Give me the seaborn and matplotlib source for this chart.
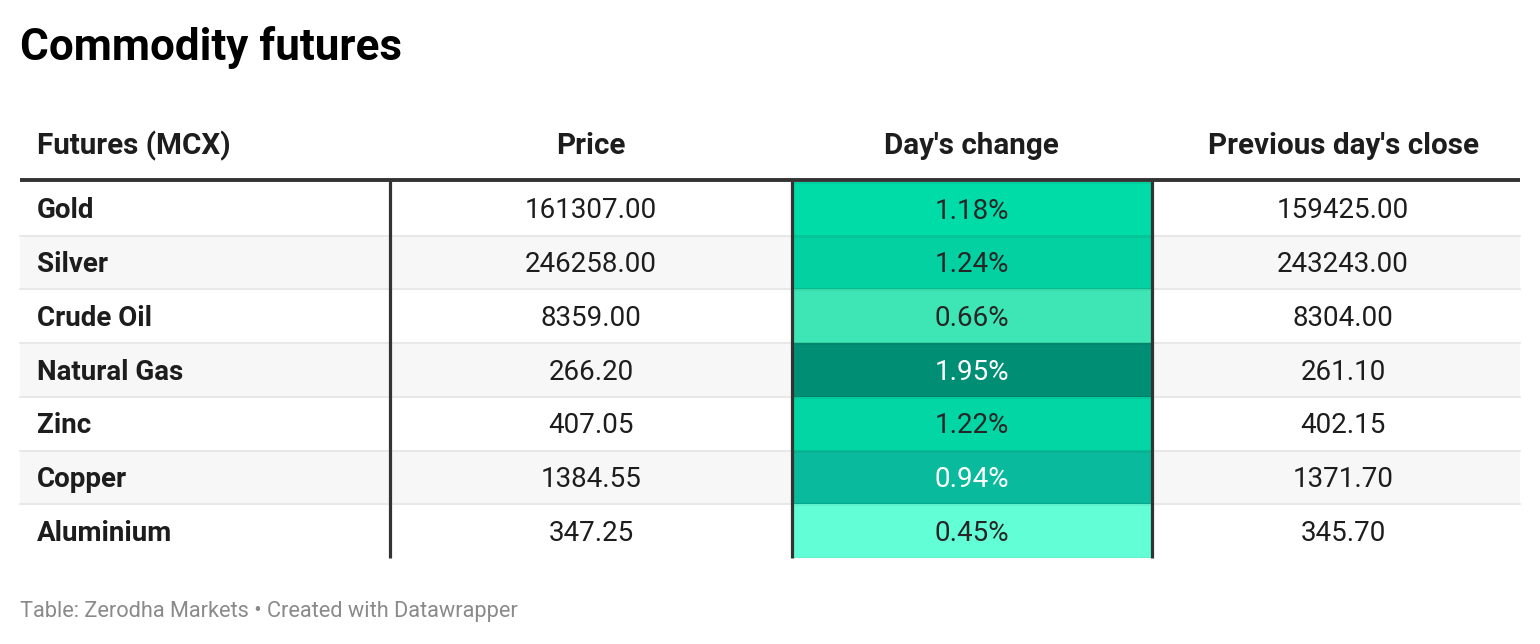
import numpy as np
import pandas as pd
import matplotlib
matplotlib.use("Agg")
import matplotlib.pyplot as plt
import seaborn as sns
from matplotlib.colors import ListedColormap, BoundaryNorm

# ---- data ----
title = "Commodity futures"
footer = "Table: Zerodha Markets \u2022 Created with Datawrapper"
headers = ["Futures (MCX)", "Price", "Day's change", "Previous day's close"]
commodities = ["Gold", "Silver", "Crude Oil", "Natural Gas", "Zinc", "Copper", "Aluminium"]
price = [161307.00, 246258.00, 8359.00, 266.20, 407.05, 1384.55, 347.25]
day_change = [1.18, 1.24, 0.66, 1.95, 1.22, 0.94, 0.45]
prev_close = [159425.00, 243243.00, 8304.00, 261.10, 402.15, 1371.70, 345.70]

# colours for the day's change cells, ordered by ascending value
change_colors = ["#62FFD6", "#3DE6B4", "#0ABA9C", "#00DCA8", "#02D6A4", "#04D1A1", "#008E74"]

sns.set_theme(style="white")
plt.rcParams["font.family"] = ["Roboto", "DejaVu Sans"]

W, H = 1540, 644
fig = plt.figure(figsize=(W / 100, H / 100), dpi=100)
fig.patch.set_facecolor("white")

def fr(x0, y0, x1, y1):
    return [x0 / W, 1 - y1 / H, (x1 - x0) / W, (y1 - y0) / H]

# layout (pixels)
tbl_left, tbl_right = 20, 1520
top, bottom = 182, 558
nrows = len(commodities)
rh = (bottom - top) / nrows
col_edges = [20, 390, 792, 1152, 1520]
col_centers = [None, 591, 971, 1343]

BODY = 20.0
HEAD = 21.3

# background axes
bg = fig.add_axes([0, 0, 1, 1])
bg.set_xlim(0, W); bg.set_ylim(H, 0); bg.axis("off")
for i in range(nrows):
    if i % 2 == 1:
        bg.add_patch(plt.Rectangle((tbl_left, top + i * rh), tbl_right - tbl_left, rh,
                                   facecolor="#F7F7F7", edgecolor="none"))
for i in range(1, nrows):
    bg.plot([tbl_left, tbl_right], [top + i * rh] * 2, color="#E8E8E8", lw=1.5)

# heatmap column
hax = fig.add_axes(fr(col_edges[2], top, col_edges[3], bottom))
df = pd.DataFrame({"Day's change": day_change}, index=commodities)
sorted_vals = sorted(day_change)
bounds = [sorted_vals[0] - 1] + [(a + b) / 2 for a, b in zip(sorted_vals[:-1], sorted_vals[1:])] + [sorted_vals[-1] + 1]
cmap = ListedColormap(change_colors)
norm = BoundaryNorm(bounds, cmap.N)
annot = np.array([[f"{v:.2f}%"] for v in day_change])
sns.heatmap(df, ax=hax, cmap=cmap, norm=norm, annot=annot, fmt="", cbar=False,
            linewidths=1.0, linecolor=(0, 0, 0, 0.05),
            annot_kws={"fontsize": BODY, "fontfamily": ["Roboto", "DejaVu Sans"]},
            xticklabels=False, yticklabels=False)
hax.set_xlabel(""); hax.set_ylabel("")
# nudge annotations slightly down to match the rest of the row text
for t in hax.texts:
    x, y = t.get_position()
    t.set_position((x, y + 0.04))

# overlay axes for text and rules
ov = fig.add_axes([0, 0, 1, 1])
ov.set_xlim(0, W); ov.set_ylim(H, 0); ov.axis("off")
ov.patch.set_alpha(0)

ov.text(20, 47, title, fontsize=31.7, fontweight="bold", color="#000000", va="center", ha="left")

hy = 146
ov.text(37, hy, headers[0], fontsize=HEAD, fontweight="bold", color="#1d1d1d", va="center", ha="left")
for j in range(1, 4):
    ov.text(col_centers[j], hy, headers[j], fontsize=HEAD, fontweight="bold", color="#1d1d1d",
            va="center", ha="center")

ov.plot([tbl_left, tbl_right], [180, 180], color="#333333", lw=2.8, solid_capstyle="butt")
for x in col_edges[1:4]:
    ov.plot([x, x], [181, bottom], color="#333333", lw=2.3, solid_capstyle="butt")

for i, name in enumerate(commodities):
    yc = top + (i + 0.5) * rh + 2
    ov.text(37, yc, name, fontsize=BODY, fontweight="bold", color="#1d1d1d", va="center", ha="left")
    ov.text(col_centers[1], yc, f"{price[i]:.2f}", fontsize=BODY, color="#1d1d1d", va="center", ha="center")
    ov.text(col_centers[3], yc, f"{prev_close[i]:.2f}", fontsize=BODY, color="#1d1d1d", va="center", ha="center")

ov.text(20, 612, footer, fontsize=15.7, color="#8a8a8a", va="center", ha="left")

fig.savefig("out.png", dpi=100, facecolor="white")
